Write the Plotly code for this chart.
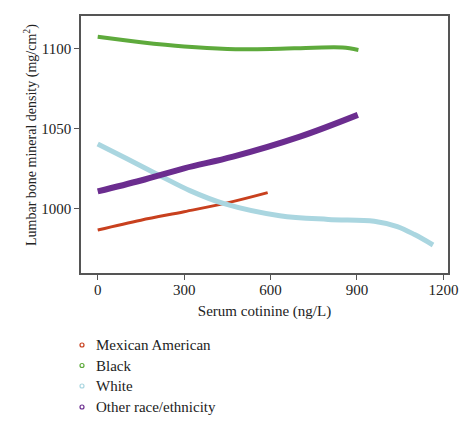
import plotly.graph_objects as go

# Data
mex_x = [0, 150, 300, 450, 590]
mex_y = [986.9, 993.0, 998.3, 1003.8, 1010.2]

blk_x = [0, 150, 300, 450, 600, 750, 850, 905]
blk_y = [1107.6, 1104.2, 1101.5, 1100.0, 1100.0, 1100.8, 1100.9, 1099.4]

wht_x = [0, 100, 216, 320, 436, 632, 800, 960, 1040, 1100, 1164]
wht_y = [1040.6, 1031.5, 1020.8, 1011.5, 1003.5, 995.8, 993.5, 992.4, 989.0, 984.0, 977.5]

oth_x = [0, 150, 300, 470, 702, 903]
oth_y = [1011.0, 1017.8, 1025.4, 1032.7, 1045.2, 1058.8]

series = [
    ("Mexican American", mex_x, mex_y, "#c8401e", 3),
    ("Black", blk_x, blk_y, "#5eaa3c", 4),
    ("White", wht_x, wht_y, "#aad6e0", 5),
    ("Other race/ethnicity", oth_x, oth_y, "#6b2d8f", 6),
]

x_ticks = [0, 300, 600, 900, 1200]
y_ticks = [1000, 1050, 1100]

FONT = "Liberation Serif"
W, H = 474, 432
ML, MR, MT, MB = 81, 26, 16, 159
PW, PH = W - ML - MR, H - MT - MB


def px_x(p):
    return (p - ML) / PW


def px_y(p):
    return (H - MB - p) / PH


fig = go.Figure()
for name, xs, ys, col, w in series:
    fig.add_trace(go.Scatter(x=xs, y=ys, mode="lines", line=dict(color=col, width=w, shape="spline"),
                             showlegend=False, name=name))

# Legend drawn manually (small open circles + labels)
annotations = [dict(text="Lumbar bone mineral density (mg/cm<sup>2</sup>)", textangle=-90,
                    xref="paper", yref="paper", x=px_x(30), y=px_y(135), xanchor="center", yanchor="middle",
                    showarrow=False, font=dict(family=FONT, size=14, color="#222"))]
shapes = []
row_y = [345, 365.5, 386, 407]
for (name, xs, ys, col, w), ry in zip(series, row_y):
    annotations.append(dict(text=name, xref="paper", yref="paper", x=px_x(94), y=px_y(ry),
                            xanchor="left", yanchor="middle", showarrow=False,
                            font=dict(family=FONT, size=15, color="#222")))
    shapes.append(dict(type="circle", xref="paper", yref="paper", xsizemode="pixel", ysizemode="pixel",
                       xanchor=px_x(82), yanchor=px_y(ry), x0=-2, x1=2, y0=-2, y1=2,
                       line=dict(color=col, width=1.2), fillcolor="white"))

fig.update_layout(
    width=W, height=H,
    margin=dict(l=ML, r=MR, t=MT, b=MB, autoexpand=False),
    paper_bgcolor="white", plot_bgcolor="white",
    font=dict(family=FONT, size=14, color="#222"),
    showlegend=False,
    annotations=annotations,
    shapes=shapes,
)
fig.update_xaxes(range=[-58, 1216], tickvals=x_ticks, ticktext=[str(v) for v in x_ticks],
                 showline=True, mirror=True, linecolor="#555", linewidth=1.5,
                 ticks="outside", ticklen=5, tickcolor="#555", showgrid=False, zeroline=False,
                 ticklabelstandoff=-3, automargin=False,
                 title=dict(text="Serum cotinine (ng/L)", standoff=9, font=dict(family=FONT, size=15)),
                 tickfont=dict(family=FONT, size=15))
fig.update_yaxes(range=[960, 1120.6], tickvals=y_ticks, ticktext=[str(v) for v in y_ticks],
                 showline=True, mirror=True, linecolor="#555", linewidth=1.5,
                 ticks="outside", ticklen=5, tickcolor="#555", showgrid=False, zeroline=False,
                 automargin=False,
                 tickfont=dict(family=FONT, size=15))

fig.write_html("out.html")
